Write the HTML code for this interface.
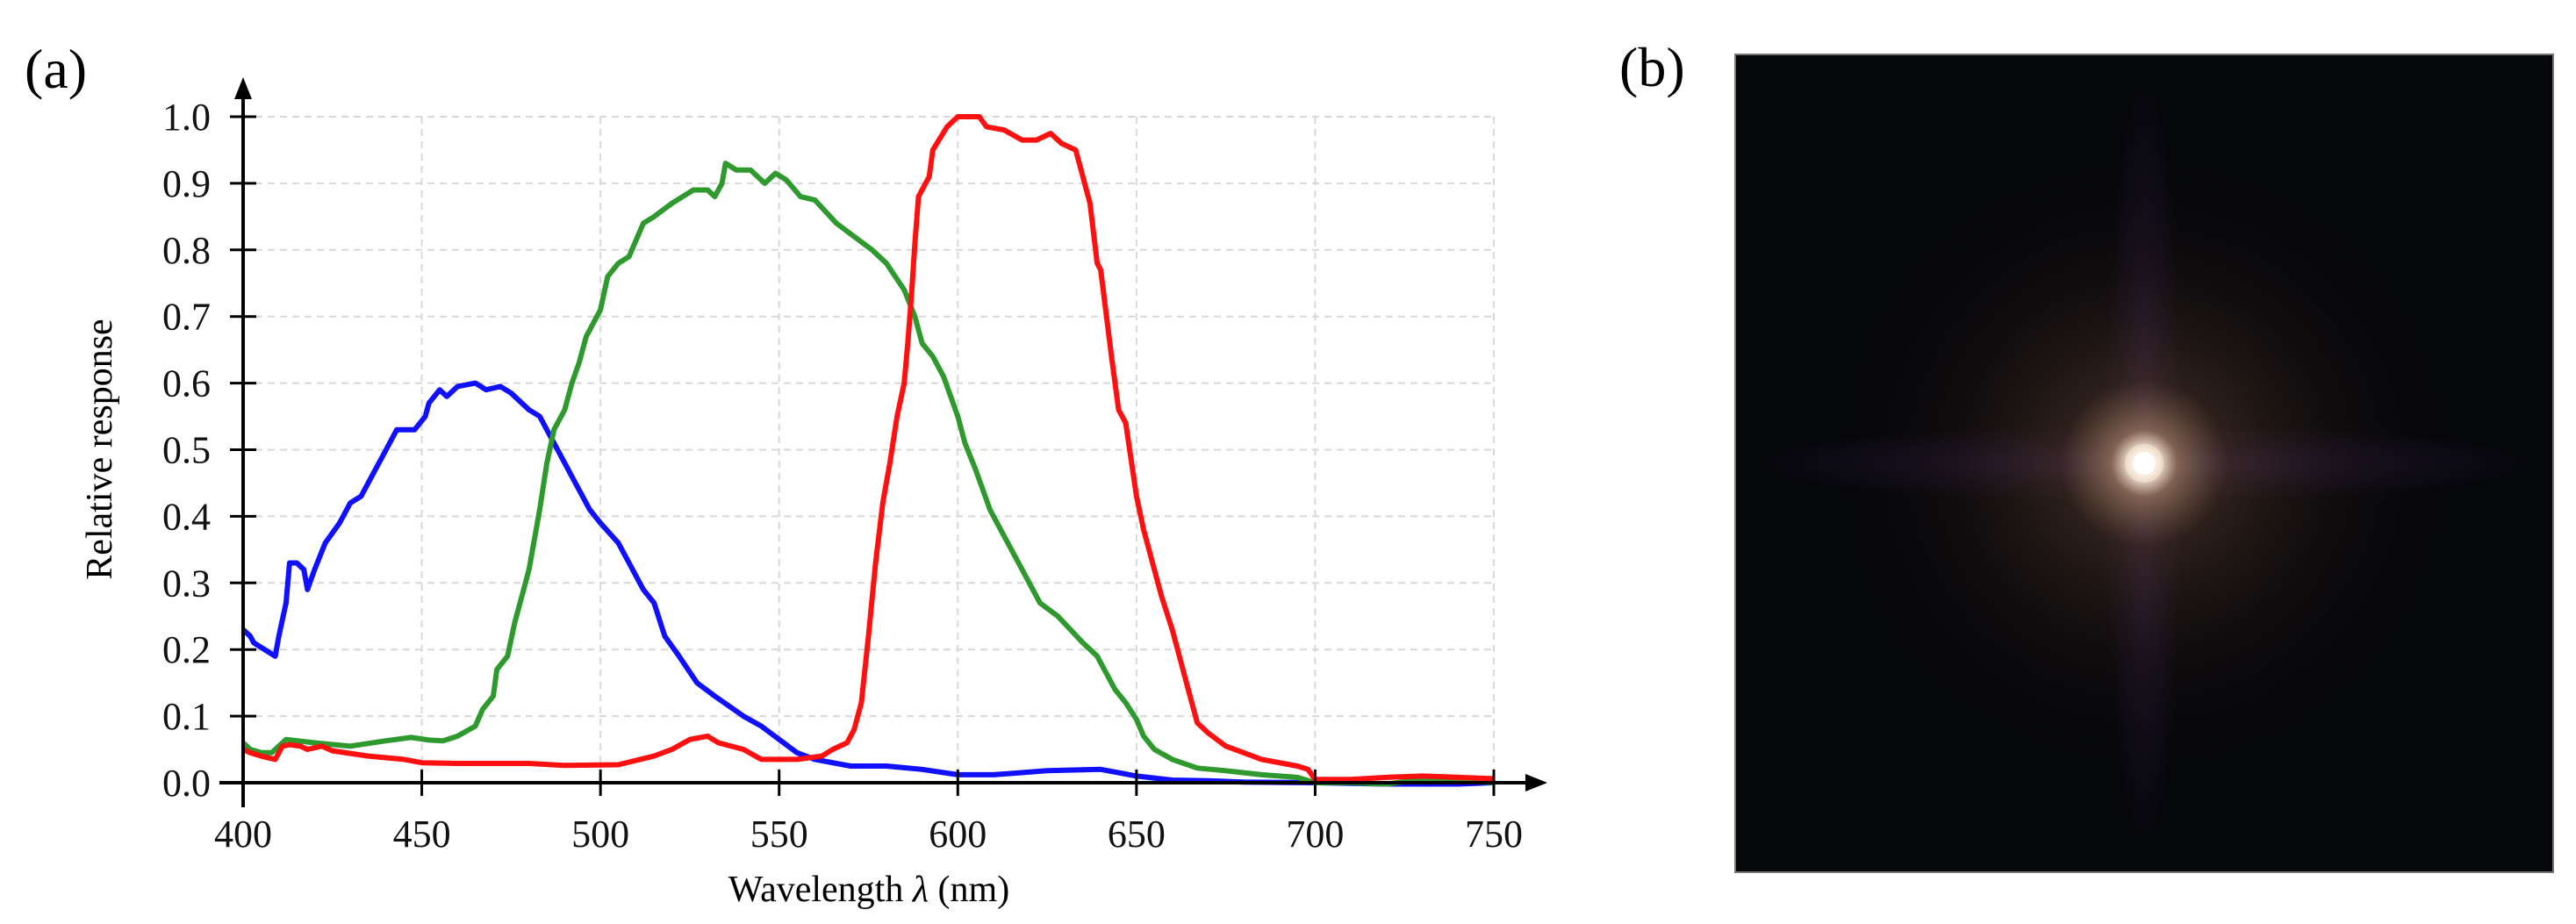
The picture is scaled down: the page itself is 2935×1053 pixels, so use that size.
<!DOCTYPE html>
<html><head><meta charset="utf-8"><style>
html,body{margin:0;padding:0;background:#fff;}
svg{display:block;font-family:"Liberation Serif",serif;}
</style></head><body>
<svg id="chart" width="2935" height="1053" viewBox="0 0 2935 1053">
<defs>
<radialGradient id="glow" cx="50%" cy="50%" r="50%">
<stop offset="0" stop-color="#fff8f0"/>
<stop offset="0.04" stop-color="#fff0e0"/>
<stop offset="0.1" stop-color="#8a6a55" stop-opacity="0.9"/>
<stop offset="0.25" stop-color="#3d2a22" stop-opacity="0.7"/>
<stop offset="0.6" stop-color="#1c1210" stop-opacity="0.4"/>
<stop offset="1" stop-color="#05060a" stop-opacity="0"/>
</radialGradient>
<radialGradient id="vstreak" cx="50%" cy="50%" r="50%">
<stop offset="0" stop-color="#4a2a6a" stop-opacity="0.8"/>
<stop offset="0.6" stop-color="#2a1a40" stop-opacity="0.4"/>
<stop offset="1" stop-color="#2a1a40" stop-opacity="0"/>
</radialGradient>
</defs>
<g id="grid"></g>
<g id="series"></g>
<g id="axes"></g>
<text x="28" y="100" font-size="64">(a)</text>
<text x="990" y="1027" font-size="42" text-anchor="middle">Wavelength <tspan font-style="italic">λ</tspan> (nm)</text>
<text transform="translate(127,512) rotate(-90)" font-size="42" text-anchor="middle">Relative response</text>
<text x="1845" y="98" font-size="64">(b)</text>
<g>
<rect x="1977" y="62" width="932" height="932" fill="#06070b" stroke="#777" stroke-width="2"/>
<ellipse cx="2443" cy="528" rx="45" ry="440" fill="url(#vstreak)"/>
<ellipse cx="2443" cy="528" rx="440" ry="45" fill="url(#vstreak)"/>
<circle cx="2443" cy="528" r="380" fill="url(#glow)"/>
<circle cx="2443" cy="528" r="22" fill="#f5e6d6" opacity="0.6"/>
<circle cx="2443" cy="528" r="13" fill="#ffffff"/>
</g>
</svg>
<script>
const xTicks=[400,450,500,550,600,650,700,750];
const yTicks=[0,0.1,0.2,0.3,0.4,0.5,0.6,0.7,0.8,0.9,1.0];
const yTickLabels=["0.0","0.1","0.2","0.3","0.4","0.5","0.6","0.7","0.8","0.9","1.0"];
const blueX=[400,402,403,409,410,412,413,415,417,418,420,423,427,430,433,437,440,443,448,451,452,455,457,460,465,468,472,475,480,483,487,490,493,497,500,505,508,512,515,518,522,527,532,540,545,550,555,560,570,580,590,600,610,625,640,645,650,660,670,680,700,720,740,750];
const blueY=[0.23,0.22,0.21,0.19,0.22,0.27,0.33,0.33,0.32,0.29,0.32,0.36,0.39,0.42,0.43,0.47,0.50,0.53,0.53,0.55,0.57,0.59,0.58,0.595,0.60,0.59,0.595,0.585,0.56,0.55,0.51,0.48,0.45,0.41,0.39,0.36,0.33,0.29,0.27,0.22,0.19,0.15,0.13,0.10,0.085,0.065,0.045,0.035,0.025,0.025,0.02,0.012,0.012,0.018,0.02,0.015,0.01,0.004,0.003,0.001,0,-0.002,-0.002,0];
const greenX=[400,402,405,408,412,420,430,440,447,452,456,460,465,467,470,471,474,476,478,480,481,483,485,487,490,492,494,496,500,502,505,508,512,515,520,526,530,532,534,535,538,542,546,549,552,556,560,566,571,576,580,585,588,590,593,596,600,602,605,607,609,612,614,617,620,623,628,635,639,641,644,647,650,652,655,660,667,675,685,695,700,710,720,730,740,750];
const greenY=[0.06,0.05,0.045,0.045,0.065,0.06,0.055,0.063,0.068,0.064,0.063,0.07,0.085,0.11,0.13,0.17,0.19,0.24,0.28,0.32,0.35,0.41,0.48,0.53,0.56,0.60,0.63,0.67,0.71,0.76,0.78,0.79,0.84,0.85,0.87,0.89,0.89,0.88,0.90,0.93,0.92,0.92,0.90,0.915,0.905,0.88,0.875,0.84,0.82,0.80,0.78,0.74,0.70,0.66,0.64,0.61,0.55,0.51,0.47,0.44,0.41,0.38,0.36,0.33,0.30,0.27,0.25,0.21,0.19,0.17,0.14,0.12,0.095,0.07,0.05,0.035,0.022,0.018,0.012,0.008,0,0,-0.002,0.005,0.003,0];
const redX=[400,402,405,409,411,413,416,418,422,425,435,445,450,460,480,490,505,515,520,525,530,533,540,545,555,562,565,569,571,573,575,577,579,581,583,585,586,587,588,589,592,593,597,600,606,608,613,618,622,626,629,633,635,637,639,640,643,645,647,650,652,657,660,665,667,670,675,680,685,695,698,700,710,720,730,740,750];
const redY=[0.05,0.045,0.04,0.035,0.055,0.057,0.055,0.05,0.055,0.048,0.04,0.035,0.03,0.029,0.029,0.026,0.027,0.04,0.05,0.065,0.07,0.06,0.05,0.035,0.035,0.04,0.05,0.06,0.08,0.12,0.22,0.33,0.42,0.48,0.55,0.60,0.66,0.73,0.81,0.88,0.91,0.95,0.985,1.0,1.0,0.985,0.98,0.965,0.965,0.975,0.96,0.95,0.91,0.87,0.78,0.77,0.64,0.56,0.54,0.43,0.38,0.28,0.23,0.13,0.09,0.075,0.055,0.045,0.035,0.025,0.02,0.005,0.005,0.008,0.01,0.008,0.006];

const NS="http://www.w3.org/2000/svg";
const X0=277,X1=1702,Y0=892,Y1=133;
function sx(v){return X0+(v-400)/(750-400)*(X1-X0);}
function sy(v){return Y0-(v-0)/(1-0)*(Y0-Y1);}
function mk(tag,attrs,parent){const e=document.createElementNS(NS,tag);for(const k in attrs)e.setAttribute(k,attrs[k]);parent.appendChild(e);return e;}
const grid=document.getElementById('grid'),axes=document.getElementById('axes'),series=document.getElementById('series');
xTicks.forEach((t,i)=>{
  if(i>0){const g=mk('line',{x1:sx(t),x2:sx(t),y1:sy(1),y2:Y0,stroke:'#d8d8d8','stroke-width':2,'stroke-dasharray':'8 6'},grid);
  
  }
  const tk=mk('line',{x1:sx(t),x2:sx(t),y1:Y0-15,y2:Y0+15,stroke:'#000','stroke-width':3},axes);
  
  
  const lb=mk('text',{x:sx(t),y:965,'font-size':44,'text-anchor':'middle',fill:'#111'},axes);
  lb.textContent=t;
  
  
});
yTicks.forEach((t,i)=>{
  if(i>0){const g=mk('line',{x1:X0,x2:X1,y1:sy(t),y2:sy(t),stroke:'#d8d8d8','stroke-width':2,'stroke-dasharray':'8 6'},grid);
  
  }
  const tk=mk('line',{x1:X0-15,x2:X0+15,y1:sy(t),y2:sy(t),stroke:'#000','stroke-width':3},axes);
  
  
  const lb=mk('text',{x:240,y:sy(t)+15,'font-size':44,'text-anchor':'end',fill:'#111'},axes);
  lb.textContent=yTickLabels[i];
  
  
});
const xa=mk('line',{x1:250,x2:1745,y1:Y0,y2:Y0,stroke:'#000','stroke-width':4},axes);


const xh=mk('polygon',{points:'1763,892 1738,882 1738,902',fill:'#000'},axes);


const ya=mk('line',{x1:X0,x2:X0,y1:108,y2:920,stroke:'#000','stroke-width':4},axes);


const yh=mk('polygon',{points:'277,88 267,113 287,113',fill:'#000'},axes);


function line(xs,ys,col,name){
  const d=xs.map((x,i)=>(i?'L':'M')+sx(x).toFixed(1)+','+sy(ys[i]).toFixed(1)).join(' ');
  const p=mk('path',{d:d,fill:'none',stroke:col,'stroke-width':6,'stroke-linejoin':'round'},series);
  
  
}
line(blueX,blueY,'#1010ff','blue-response-line');
line(greenX,greenY,'#2e9a2e','green-response-line');
line(redX,redY,'#ff1010','red-response-line');
</script>
</body></html>
